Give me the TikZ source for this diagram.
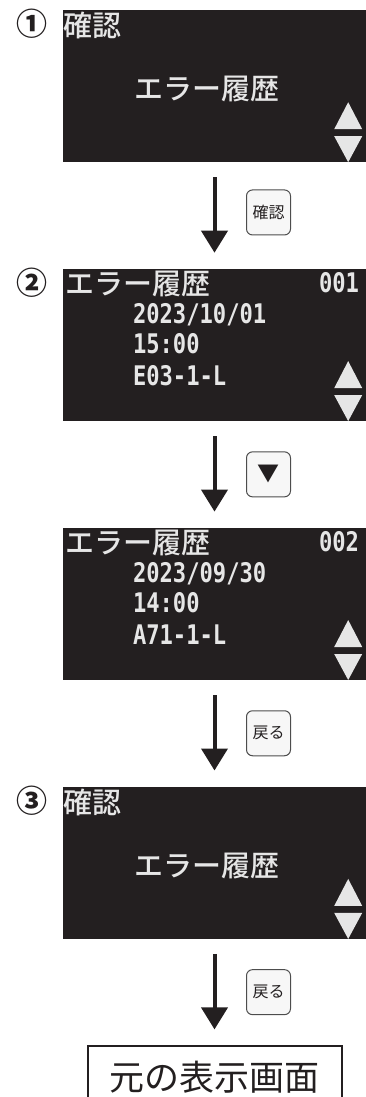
\documentclass[tikz,border=0pt]{standalone}
\usepackage{fontspec}
\setmainfont{Noto Sans CJK JP}
\newfontfamily\lcdjpfont{Noto Sans CJK JP Medium}
\newfontfamily\lcdfont{DejaVu Sans Mono}[FakeStretch=0.82]
\usepackage{tikz}
\usetikzlibrary{arrows.meta, positioning, calc}
\definecolor{lcdBack}{HTML}{231F20}
\definecolor{lcdText}{HTML}{E6E6E6}
\definecolor{keyFill}{HTML}{F7F7F7}
\definecolor{keyLine}{HTML}{4D4D4D}

% up/down marks in the lower right corner of a screen
\newcommand{\scrollmark}[1]{%
    \fill[lcdText] ([shift={(-32,26)}]#1.south east) -- ([shift={(-4,26)}]#1.south east)
        -- ([shift={(-18,0)}]#1.south east) -- cycle;
    \fill[lcdText] ([shift={(-32,33)}]#1.south east) -- ([shift={(-4,33)}]#1.south east)
        -- ([shift={(-18,60)}]#1.south east) -- cycle;
}

\begin{document}
\begin{tikzpicture}[
    x=1pt, y=1pt,
    node distance=106.5pt,
    screen/.style={fill=lcdBack, minimum width=303pt, minimum height=152pt, inner sep=0pt},
    lcdjp/.style={text=lcdText, font=\lcdjpfont\fontsize{29}{29}\selectfont, inner sep=0pt},
    lcdnum/.style={text=lcdText, font=\lcdfont\bfseries\fontsize{27}{27}\selectfont, inner sep=0pt},
    stepno/.style={text=lcdBack, font=\bfseries\fontsize{31}{31}\selectfont, inner sep=0pt},
    keybox/.style={
        draw=keyLine, fill=keyFill, line width=1pt, rounded corners=6pt,
        minimum width=44pt, minimum height=45pt, inner sep=0pt,
        text=lcdBack, font=\fontsize{16}{16}\selectfont
    },
    flow/.style={draw=lcdBack, line width=4pt, -{Triangle[width=26pt,length=22pt]},
        shorten <=15pt, shorten >=16pt}
]
    \useasboundingbox (0,0) rectangle (366,-1097);

    \node[screen] (scr1) at (214.5,-86) {};
    \node[screen, below=of scr1] (scr2) {};
    \node[screen, below=of scr2] (scr3) {};
    \node[screen, below=of scr3] (scr4) {};
    \node[draw=lcdBack, line width=2pt, minimum width=254pt, minimum height=62pt,
        text=lcdBack, font=\fontsize{35}{35}\selectfont, below=of scr4] (home) {元の表示画面};

    % step numbers
    \node[stepno] (no1) at ([xshift=-30.5pt, yshift=-14pt]scr1.north west) {①};
    \node[stepno] (no2) at ([xshift=-30.5pt, yshift=-14pt]scr2.north west) {②};
    \node[stepno] (no3) at ([xshift=-30.5pt, yshift=-14pt]scr4.north west) {③};

    % screen 1
    \node[lcdjp, anchor=north west] (t1) at ([yshift=-2pt]scr1.north west) {確認};
    \node[lcdjp] (m1) at ([xshift=-7.5pt, yshift=-3pt]scr1.center) {エラー履歴};
    \scrollmark{scr1}

    % screen 2
    \node[lcdjp, anchor=north west] (t2) at ([xshift=2pt, yshift=-2pt]scr2.north west) {エラー履歴};
    \node[lcdnum, anchor=base east] (n2) at ([xshift=-7pt, yshift=-24pt]scr2.north east) {001};
    \node[lcdnum, anchor=base west] (d2) at ([xshift=70pt, yshift=-55pt]scr2.north west) {2023/10/01};
    \node[lcdnum, anchor=base west] (h2) at ([xshift=70pt, yshift=-85pt]scr2.north west) {15:00};
    \node[lcdnum, anchor=base west] (c2) at ([xshift=70pt, yshift=-117pt]scr2.north west) {E03-1-L};
    \scrollmark{scr2}

    % screen 3
    \node[lcdjp, anchor=north west] (t3) at ([xshift=2pt, yshift=-2pt]scr3.north west) {エラー履歴};
    \node[lcdnum, anchor=base east] (n3) at ([xshift=-7pt, yshift=-24pt]scr3.north east) {002};
    \node[lcdnum, anchor=base west] (d3) at ([xshift=70pt, yshift=-55pt]scr3.north west) {2023/09/30};
    \node[lcdnum, anchor=base west] (h3) at ([xshift=70pt, yshift=-85pt]scr3.north west) {14:00};
    \node[lcdnum, anchor=base west] (c3) at ([xshift=70pt, yshift=-117pt]scr3.north west) {A71-1-L};
    \scrollmark{scr3}

    % screen 4
    \node[lcdjp, anchor=north west] (t4) at ([yshift=-2pt]scr4.north west) {確認};
    \node[lcdjp] (m4) at ([xshift=-7.5pt, yshift=-3pt]scr4.center) {エラー履歴};
    \scrollmark{scr4}

    % keys
    \node[keybox] (k1) at ([xshift=54pt, yshift=3pt]$(scr1.south)!0.5!(scr2.north)$) {確認};
    \node[keybox, font=\fontsize{22}{22}\selectfont] (k2) at ([xshift=54pt]$(scr2.south)!0.5!(scr3.north)$) {▼};
    \node[keybox] (k3) at ([xshift=54pt]$(scr3.south)!0.5!(scr4.north)$) {戻る};
    \node[keybox] (k4) at ([xshift=54pt]$(scr4.south)!0.5!(home.north)$) {戻る};

    \draw[flow] (scr1) -- (scr2);
    \draw[flow] (scr2) -- (scr3);
    \draw[flow] (scr3) -- (scr4);
    \draw[flow] (scr4) -- (home);
\end{tikzpicture}
\end{document}
